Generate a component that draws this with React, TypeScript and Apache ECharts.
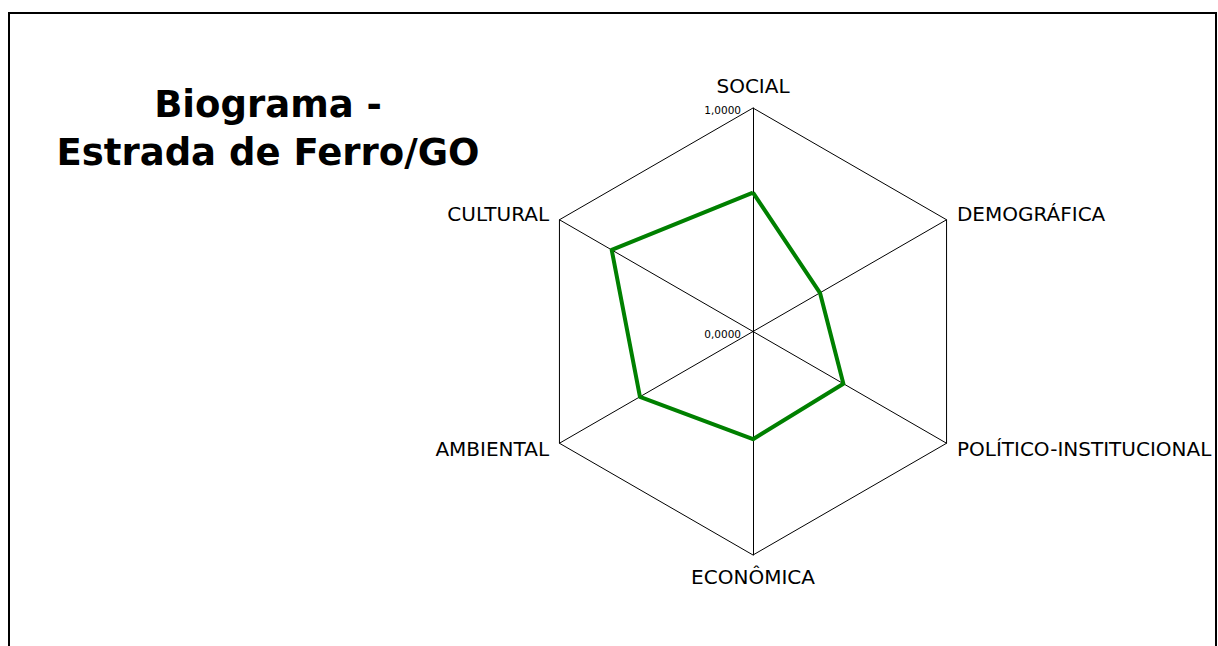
import React, { useEffect, useRef } from "react";
import * as echarts from "echarts";

// Indicators listed counter-clockwise from the top (ECharts default direction)
const indicatorNames = ["SOCIAL", "CULTURAL", "AMBIENTAL", "ECONÔMICA", "POLÍTICO-INSTITUCIONAL", "DEMOGRÁFICA"];
const values = [0.621, 0.73, 0.584, 0.482, 0.467, 0.346];
const tickLabels = ["1,0000", "0,0000"];
const titleLines = ["Biograma -", "Estrada de Ferro/GO"];

export default function App() {
  const ref = useRef<HTMLDivElement>(null);
  useEffect(() => {
    document.body.style.margin = "0";
    const chart = echarts.init(ref.current!, null, { renderer: "svg" });
    const cx = 753;
    const cy = 331.5;
    const R = 223.5;
    chart.setOption({
      animation: false,
      backgroundColor: "#ffffff",
      radar: {
        center: [cx, cy],
        radius: R,
        startAngle: 90,
        splitNumber: 1,
        shape: "polygon",
        nameGap: 12,
        axisName: { color: "#000", fontSize: 20, fontFamily: "DejaVu Sans" },
        axisLine: { lineStyle: { color: "#000", width: 1 } },
        splitLine: { lineStyle: { color: "#000", width: 1 } },
        splitArea: { show: false },
        axisTick: { show: false },
        axisLabel: { show: false },
        indicator: indicatorNames.map((n) => ({ name: n, min: 0, max: 1 })),
      },
      series: [
        {
          type: "radar",
          symbol: "none",
          lineStyle: { color: "#008000", width: 4 },
          itemStyle: { color: "#008000" },
          data: [{ value: values, name: "Biograma" }],
        },
      ],
      graphic: [
        {
          type: "rect",
          shape: { x: 9, y: 13, width: 1207, height: 700 },
          style: { fill: "none", stroke: "#000", lineWidth: 2 },
          silent: true,
        },
        {
          type: "text",
          x: 268,
          y: 104,
          style: {
            text: titleLines[0],
            font: "bold 37px 'DejaVu Sans'",
            fill: "#000",
            align: "center",
            verticalAlign: "middle",
          },
        },
        {
          type: "text",
          x: 268,
          y: 152,
          style: {
            text: titleLines[1],
            font: "bold 37px 'DejaVu Sans'",
            fill: "#000",
            align: "center",
            verticalAlign: "middle",
          },
        },
        {
          type: "text",
          x: cx - 12,
          y: cy - R + 2,
          style: {
            text: tickLabels[0],
            font: "10.5px 'DejaVu Sans'",
            fill: "#000",
            align: "right",
            verticalAlign: "middle",
          },
        },
        {
          type: "text",
          x: cx - 12,
          y: cy + 2,
          style: {
            text: tickLabels[1],
            font: "10.5px 'DejaVu Sans'",
            fill: "#000",
            align: "right",
            verticalAlign: "middle",
          },
        },
      ],
    });
    return () => chart.dispose();
  }, []);
  return <div ref={ref} style={{ width: 1218, height: 646 }} />;
}
